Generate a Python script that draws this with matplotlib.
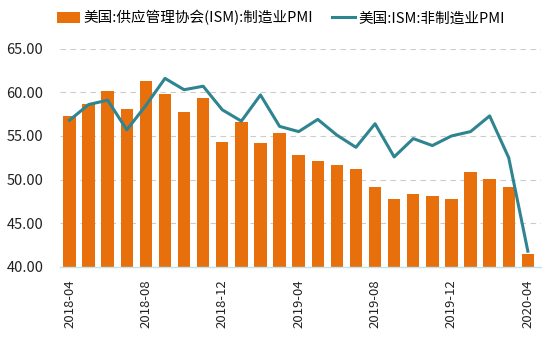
import matplotlib
matplotlib.use("Agg")
import matplotlib.pyplot as plt
import numpy as np

plt.rcParams['font.family'] = ['Noto Sans CJK SC', 'DejaVu Sans']

months = ["2018-04", "2018-05", "2018-06", "2018-07", "2018-08", "2018-09",
          "2018-10", "2018-11", "2018-12", "2019-01", "2019-02", "2019-03",
          "2019-04", "2019-05", "2019-06", "2019-07", "2019-08", "2019-09",
          "2019-10", "2019-11", "2019-12", "2020-01", "2020-02", "2020-03",
          "2020-04"]
manufacturing_pmi = [57.3, 58.7, 60.2, 58.1, 61.3, 59.8, 57.7, 59.3, 54.3,
                     56.6, 54.2, 55.3, 52.8, 52.1, 51.7, 51.2, 49.1, 47.8,
                     48.3, 48.1, 47.8, 50.9, 50.1, 49.1, 41.5]
non_manufacturing_pmi = [56.8, 58.6, 59.1, 55.7, 58.5, 61.6, 60.3, 60.7, 58.0,
                         56.7, 59.7, 56.1, 55.5, 56.9, 55.1, 53.7, 56.4, 52.6,
                         54.7, 53.9, 55.0, 55.5, 57.3, 52.5, 41.8]
label_bar = "美国:供应管理协会(ISM):制造业PMI"
label_line = "美国:ISM:非制造业PMI"
yticks = [40, 45, 50, 55, 60, 65]

fig = plt.figure(figsize=(5.5, 3.43), dpi=100)
ax = fig.add_axes([0.109, 0.222, 0.875, 0.636])

x = np.arange(len(months))
bars = ax.bar(x, manufacturing_pmi, width=0.65, color="#E8700C",
              label=label_bar, zorder=2)
line, = ax.plot(x, non_manufacturing_pmi, color="#2F8491", linewidth=2.2,
                label=label_line, zorder=3)

ax.set_ylim(40, 65)
ax.set_xlim(-0.5, 24.7)
ax.set_yticks(yticks)
ax.set_yticklabels([f"{v:.2f}" for v in yticks], fontsize=10.5, color="#222222")
ax.set_xticks(x[::4])
ax.set_xticklabels(months[::4], rotation=90, fontsize=9.5, color="#222222")
ax.tick_params(axis="y", length=0, pad=12)
ax.tick_params(axis="x", length=0, pad=9)

ax.yaxis.grid(True, linestyle=(0, (5, 4)), color="#CCCCCC", linewidth=0.8)
ax.set_axisbelow(True)
for side in ["top", "right", "left"]:
    ax.spines[side].set_visible(False)
ax.spines["bottom"].set_color("#BFE3F0")
ax.spines["bottom"].set_linewidth(1.0)

fig.legend([bars, line], [label_bar, label_line], loc="upper left",
           bbox_to_anchor=(0.085, 1.0), ncol=2, frameon=False, fontsize=10.5,
           handlelength=1.6, handleheight=0.75, columnspacing=1.3,
           handletextpad=0.2, borderaxespad=0.3)

fig.savefig("out.png", dpi=100)
